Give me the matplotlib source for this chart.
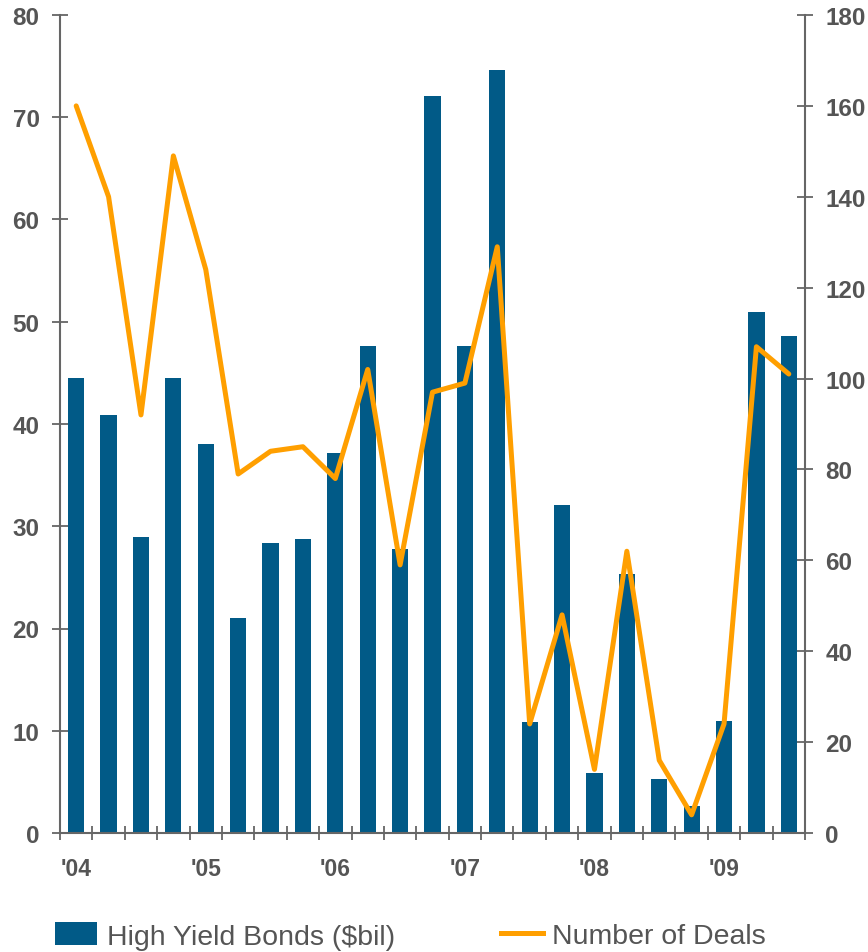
import numpy as np
import matplotlib
matplotlib.use("Agg")
import matplotlib.pyplot as plt
from matplotlib.lines import Line2D
from matplotlib.patches import Patch

plt.rcParams['font.family'] = ['Liberation Sans', 'DejaVu Sans']

# quarterly data, 2004 Q1 .. 2009 Q3
bonds = [44.5, 40.9, 28.9, 44.5, 38.0, 21.0, 28.4, 28.75, 37.2, 47.6, 27.8, 72.1,
         47.6, 74.6, 10.9, 32.1, 5.9, 25.3, 5.3, 2.6, 11.0, 51.0, 48.6]
deals = [160, 140, 92, 149, 124, 79, 84, 85, 78, 102, 59, 97,
         99, 129, 24, 48, 14, 62, 16, 4, 24, 107, 101]
year_labels = ["'04", "'05", "'06", "'07", "'08", "'09"]

bar_color = '#015a87'
line_color = '#ff9f00'
axis_color = '#666666'
text_color = '#555555'

fig = plt.figure(figsize=(8.68, 9.53), dpi=100)
ax1 = fig.add_axes([60/868, 1-834/953, 745/868, 818/953])
ax2 = ax1.twinx()

x = np.arange(len(bonds))
ax1.bar(x, bonds, width=0.5, color=bar_color, zorder=2)
ax2.plot(x, deals, '-', color=line_color, lw=3.6, solid_joinstyle='round',
         solid_capstyle='round', zorder=3)

ax1.set_xlim(-0.5, len(bonds) - 0.5)
ax1.set_ylim(0, 80)
ax2.set_ylim(0, 180)
ax1.set_yticks(np.arange(0, 81, 10))
ax2.set_yticks(np.arange(0, 181, 20))

# year labels under the first quarter of each year, ticks between the bars
ax1.set_xticks(np.arange(0, len(bonds), 4))
ax1.set_xticklabels(year_labels)
ax1.set_xticks(np.arange(-0.5, len(bonds), 1), minor=True)
ax1.tick_params(axis='x', which='major', length=0, pad=17)
ax1.tick_params(axis='x', which='minor', direction='inout', length=10,
                width=1.3, color=axis_color)

for ax in (ax1, ax2):
    ax.spines['top'].set_visible(False)
    for s in ('left', 'right', 'bottom'):
        ax.spines[s].set_color(axis_color)
        ax.spines[s].set_linewidth(1.5)
    for lab in ax.get_yticklabels():
        lab.set_fontweight('bold')
        lab.set_color(text_color)
        lab.set_fontsize(17.5)
    for lab in ax.get_xticklabels():
        lab.set_fontweight('bold')
        lab.set_color(text_color)
        lab.set_fontsize(16.5)

ax1.tick_params(axis='y', direction='inout', length=11.5, width=1.3,
                color=axis_color, pad=9)
ax2.tick_params(axis='y', direction='inout', length=11.5, width=1.3,
                color=axis_color, pad=9)
ax1.spines['right'].set_visible(False)
ax2.spines['left'].set_visible(False)
ax2.spines['bottom'].set_visible(False)

h1 = Patch(facecolor=bar_color, edgecolor='none')
h2 = Line2D([], [], color=line_color, lw=3.6)
fig.legend([h1], ['High Yield Bonds ($bil)'], loc='center left',
           bbox_to_anchor=(29/868, 1-937/953), frameon=False, fontsize=20.5,
           labelcolor=text_color, handlelength=1.5, handleheight=0.85,
           handletextpad=0.35)
fig.legend([h2], ['Number of Deals'], loc='center left',
           bbox_to_anchor=(475/868, 1-937/953), frameon=False, fontsize=20.5,
           labelcolor=text_color, handlelength=1.5, handletextpad=0.3)

fig.savefig('out.png', dpi=100)
